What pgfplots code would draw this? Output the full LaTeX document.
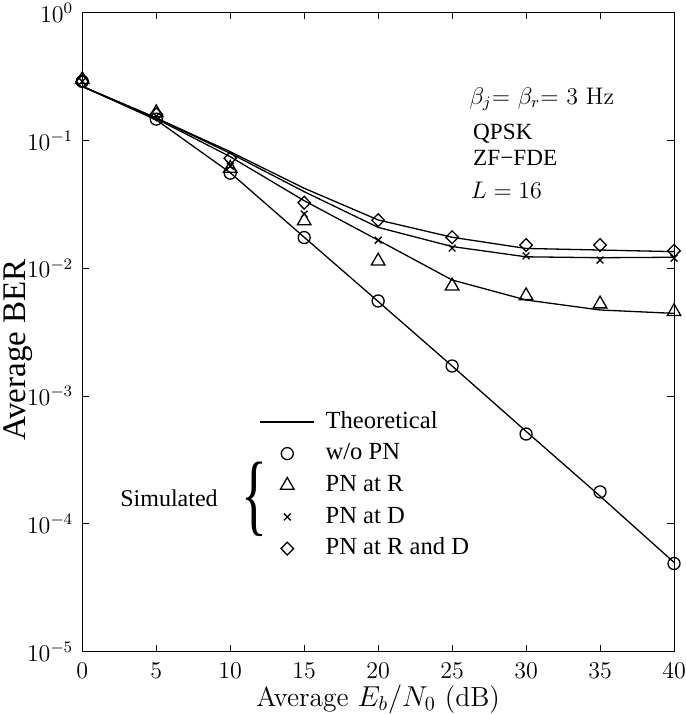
\documentclass[border=0pt]{standalone}
\usepackage{fontspec}
\setmainfont{Liberation Serif}
\newfontfamily\lmr{Latin Modern Roman}
\usepackage{pgfplots}
\pgfplotsset{compat=1.18}
\pgfplotsset{
  legline/.style={legend image code/.code={\draw[##1] (0pt,0pt) -- (27pt,0pt);}},
  legmark/.style={legend image code/.code={\draw[##1] plot coordinates {(13.5pt,0pt)};}},
}
\begin{document}
\begin{tikzpicture}
\begin{axis}[
  scale only axis, width=295.85pt, height=319.5pt,
  xmin=0, xmax=40, ymin=1e-5, ymax=1, ymode=log, log basis y=10,
  xtick={0,5,...,40},
  ytick={1e-5,1e-4,1e-3,1e-2,1e-1,1},
  tick align=inside, tick pos=both,
  major tick length=3.3pt, minor tick length=1.7pt,
  axis line style={line width=0.5pt},
  every tick/.style={black, line width=0.5pt},
  tick label style={font=\fontsize{12}{13}\selectfont},
  xticklabel style={yshift=-2pt},
  yticklabel style={xshift=-1pt},
  xlabel={{\lmr Average $E_b/N_0$ (dB)}},
  ylabel={Average BER},
  every axis x label/.style={at={(rel axis cs:0.5,0)}, yshift=-23.8pt, anchor=center, font=\fontsize{13.8}{15}\selectfont},
  every axis y label/.style={at={(rel axis cs:0,0.472)}, xshift=-32pt, rotate=90, anchor=center, font=\fontsize{16.5}{18}\selectfont},
  legend style={at={(rel axis cs:0.299,0.378)}, anchor=north west, draw=none, fill=none,
    inner xsep=0pt, inner ysep=0pt, row sep=4.43pt, column sep=5.35pt,
    font=\fontsize{12.3}{14}\selectfont,
    nodes={inner sep=0pt, text height=8.8pt, text depth=2.6pt}},
  legend cell align=left,
  every axis plot/.append style={black, line width=0.65pt},
]
% Theoretical curves
\addplot[mark=none, legline] coordinates {
(0,0.265) (5,0.145) (10,0.056) (15,0.0175) (20,0.0055) (25,0.00172) (30,5.3e-4) (35,1.65e-4) (40,5.0e-5)};
\addlegendentry{Theoretical}
\addplot[mark=none, forget plot] coordinates {
(0,0.265) (5,0.148) (10,0.0747) (15,0.0338) (20,0.0166) (25,0.0081) (30,0.00565) (35,0.00472) (40,0.00444)};
\addplot[mark=none, forget plot] coordinates {
(0,0.265) (5,0.15) (10,0.0794) (15,0.0398) (20,0.0209) (25,0.0148) (30,0.0123) (35,0.0121) (40,0.0122)};
\addplot[mark=none, forget plot] coordinates {
(0,0.265) (5,0.15) (10,0.0817) (15,0.0423) (20,0.0239) (25,0.0175) (30,0.0143) (35,0.0139) (40,0.0135)};
% Simulated
\addplot[only marks, mark=o, mark size=3pt, legmark] coordinates {
(0,0.29) (5,0.147) (10,0.0555) (15,0.0174) (20,0.00555) (25,0.00172) (30,5.05e-4) (35,1.78e-4) (40,4.9e-5)};
\addlegendentry{w/o PN}
\addplot[only marks, mark=triangle, mark size=3.9pt, legmark] coordinates {
(0,0.30) (5,0.165) (10,0.0606) (15,0.0235) (20,0.0114) (25,0.00727) (30,0.0061) (35,0.00526) (40,0.00458)};
\addlegendentry{PN at R}
\addplot[only marks, mark=x, mark size=2.4pt, legmark] coordinates {
(0,0.29) (5,0.155) (10,0.063) (15,0.0266) (20,0.0166) (25,0.0144) (30,0.0125) (35,0.0116) (40,0.012)};
\addlegendentry{PN at D}
\addplot[only marks, mark=diamond, mark size=3.2pt, mark options={xscale=1.3}, legmark] coordinates {
(0,0.29) (5,0.16) (10,0.0726) (15,0.0326) (20,0.0238) (25,0.0175) (30,0.0152) (35,0.0152) (40,0.0137)};
\addlegendentry{PN at R and D}
% annotations
\node[anchor=base west, inner sep=0pt, font=\lmr\fontsize{12}{13}\selectfont] at (rel axis cs:0.654,0.8566) {$\beta_j$= $\beta_r$= 3 Hz};
\node[anchor=base west, inner sep=0pt, font=\fontsize{11.6}{13}\selectfont] at (rel axis cs:0.660,0.8008) {QPSK};
\node[anchor=base west, inner sep=0pt, font=\fontsize{11.6}{13}\selectfont] at (rel axis cs:0.660,0.7601) {ZF−FDE};
\node[anchor=base west, inner sep=0pt, font=\lmr\fontsize{11.5}{13}\selectfont] at (rel axis cs:0.656,0.7085) {$L=16$};
\node[font=\fontsize{12}{13}\selectfont, inner sep=0pt] at (rel axis cs:0.1465,0.2405) {Simulated};
\node[inner sep=0pt, xscale=0.6, transform shape, font=\fontsize{45}{45}\selectfont] at (rel axis cs:0.2917,0.239) {\{};
\end{axis}
\pgfresetboundingbox
\path ([shift={(-41.15pt,-31.15pt)}]current axis.south west) rectangle ([shift={(5.5pt,6.35pt)}]current axis.north east);
\end{tikzpicture}
\end{document}
